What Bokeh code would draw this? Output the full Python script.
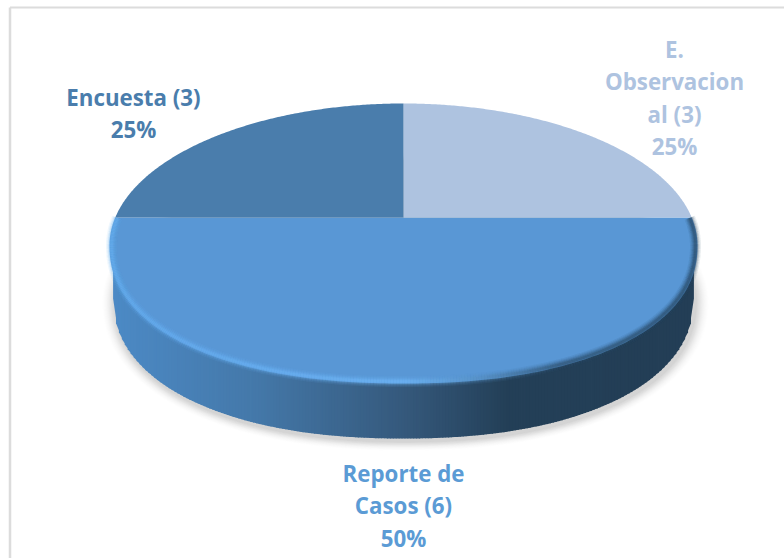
import numpy as np
from bokeh.core.properties import value
from bokeh.embed import file_html
from bokeh.models import Range1d
from bokeh.plotting import figure
from bokeh.resources import INLINE

# Study types and how many studies each one has
categories = ["Reporte de Casos", "E. Observacional", "Encuesta"]
counts = [6, 3, 3]
label_lines = [["Reporte de", "Casos (6)"], ["E.", "Observacion", "al (3)"], ["Encuesta (3)"]]
colors = ["#5997d5", "#aec3e0", "#4a7dac"]
label_colors = ["#5b9bd5", "#aec3e0", "#4a7dac"]


def hex_mix(a, b, t):
    ca = [int(a[i:i + 2], 16) for i in (1, 3, 5)]
    cb = [int(b[i:i + 2], 16) for i in (1, 3, 5)]
    return "#%02x%02x%02x" % tuple(round(x + (y - x) * t) for x, y in zip(ca, cb))


def ramp(stops, t):
    for (t0, c0), (t1, c1) in zip(stops, stops[1:]):
        if t <= t1:
            return hex_mix(c0, c1, (t - t0) / (t1 - t0))
    return stops[-1][1]


W, H = 784, 558
p = figure(width=W, height=H, x_range=Range1d(0, W), y_range=Range1d(H, 0),
           output_backend="svg", toolbar_location=None, min_border=0,
           background_fill_color="white", border_fill_color="white")
p.axis.visible = False
p.grid.visible = False
p.outline_line_color = None

# Chart frame, running off the right and bottom edges
p.line([9.5, 9.5], [H, 7], line_color="#dcdcdc", line_width=2.5)
p.line([9.5, W], [7, 7], line_color="#dcdcdc", line_width=2)

# The disc in screen space: ellipse of the top face and the foreshortened pie centre
cx, cy, a, b = 403, 245, 294, 142
hub_y = 217
depth = 53
wall_a, wall_b = 290, 140
front_b = 138      # near half of the face is a little flatter than the far half
squareness = 2.2


def front_curve(x, half_width, half_height):
    u = np.clip(np.abs((x - cx) / half_width), 0, 1)
    return half_height * (1 - u ** squareness) ** (1 / squareness)


def rim(angle):
    """Point where a ray from the hub at this pie angle meets the top-face ellipse."""
    dx, dy = np.cos(angle), -np.sin(angle)
    ox, oy = 0.0, hub_y - cy
    A = (dx / a) ** 2 + (dy / b) ** 2
    B = 2 * (ox * dx / a ** 2 + oy * dy / b ** 2)
    C = (ox / a) ** 2 + (oy / b) ** 2 - 1
    r = (-B + np.sqrt(B * B - 4 * A * C)) / (2 * A)
    return cx + r * dx, hub_y + r * dy


def ellipse_angle(x, y):
    return np.arctan2((y - cy) / b, (x - cx) / a)


# Soft shadow below the disc
for grow, alpha in zip(np.arange(13, 0, -1), np.linspace(0.012, 0.05, 13)):
    t = np.linspace(0, 2 * np.pi, 360)
    sx = cx + 2 + (wall_a + grow) * np.cos(t)
    sy = np.where(np.sin(t) > 0,
                  cy + depth + 3 + front_curve(sx - 2, wall_a + grow, wall_b + grow * 0.7),
                  cy + depth + 3 + (wall_b + grow * 0.7) * np.sin(t))
    p.patch(sx, sy, fill_color="#808080", fill_alpha=alpha, line_color=None)

# Side wall: thin vertical strips shaded from left to right
wall_stops = [(0.0, "#4c8ac6"), (0.25, "#4478a9"), (0.5, "#35597c"),
              (0.68, "#233f57"), (1.0, "#233e56")]
edges = np.linspace(cx - wall_a, cx + wall_a, 200)
xs, ys, fills = [], [], []
for x0, x1 in zip(edges[:-1], edges[1:]):
    bot0 = cy + depth + front_curve(x0, wall_a, wall_b)
    bot1 = cy + depth + front_curve(x1, wall_a, wall_b)
    xs.append([x0 - 0.4, x1 + 0.4, x1 + 0.4, x0 - 0.4])
    ys.append([cy, cy, bot1, bot0])
    fills.append(ramp(wall_stops, ((x0 + x1) / 2 - (cx - a)) / (2 * a)))
p.patches(xs, ys, fill_color=fills, line_color=None)

# Top face: one wedge per category, sized by its share of the total
shares = np.array(counts) / sum(counts)
starts = np.pi + 2 * np.pi * np.concatenate([[0], np.cumsum(shares)[:-1]])
for share, start, color in zip(shares, starts, colors):
    end = start + 2 * np.pi * share
    x0, y0 = rim(start)
    x1, y1 = rim(end)
    t0 = ellipse_angle(x0, y0)
    t1 = ellipse_angle(x1, y1)
    # Screen y points down, so the pie's counter-clockwise order runs backwards in t
    while t1 > t0:
        t1 -= 2 * np.pi
    t = np.linspace(t0, t1, 200)
    ex, ey = cx + a * np.cos(t), cy + b * np.sin(t)
    ey = np.where(ey > cy, cy + front_curve(ex, a, front_b), ey)
    p.patch(np.r_[cx, ex], np.r_[hub_y, ey], fill_color=color, line_color=None)
    if share < 0.5 and start < 2 * np.pi:
        # The pale wedge darkens slightly along its outer edge
        p.line(ex, ey, line_color="#7f8fa6", line_width=1.2, line_alpha=0.6)

# Bevel along the front rim: bright on the left, dark on the right, soft on both sides
bevel_stops = [(0.0, "#66aef0"), (0.5, "#70b7f8"), (0.62, "#5a94c8"), (0.76, "#2f516f"), (1.0, "#2a4a66")]
start_t = np.pi + np.arcsin((cy - hub_y) / b)
angles = np.linspace(start_t, -np.arcsin((cy - hub_y) / b), 360)
for inset, width, alpha in [(2, 11, 0.10), (2, 8.5, 0.14), (2, 6.5, 0.20), (2, 4.5, 0.30), (2, 2.5, 0.40)]:
    px = cx + (a - inset) * np.cos(angles)
    py = cy + (b - inset) * np.sin(angles)
    py = np.where(py > cy, cy + front_curve(px, a - inset, front_b - inset), py)
    seg_x = [[px[i], px[i + 1]] for i in range(len(px) - 1)]
    seg_y = [[py[i], py[i + 1]] for i in range(len(py) - 1)]
    seg_c = [ramp(bevel_stops, (px[i] - (cx - a)) / (2 * a)) for i in range(len(px) - 1)]
    p.multi_line(seg_x, seg_y, line_color=seg_c, line_width=width, line_alpha=alpha)

# Data labels: wrapped name lines followed by the percentage
font = value("Open Sans")
anchors = [(403, 473), (674, 49), (133, 97)]
line_step = 32.3
for lines, share, color, (lx, ly) in zip(label_lines, shares, label_colors, anchors):
    rows = lines + [f"{share * 100:.0f}%"]
    p.text([lx] * len(rows), [ly + i * line_step for i in range(len(rows))], text=rows,
           text_color=color, text_font=font, text_font_style="bold", text_font_size="22.3px",
           text_align="center", text_baseline="middle")

open("out.html", "w").write(file_html(p, INLINE))
